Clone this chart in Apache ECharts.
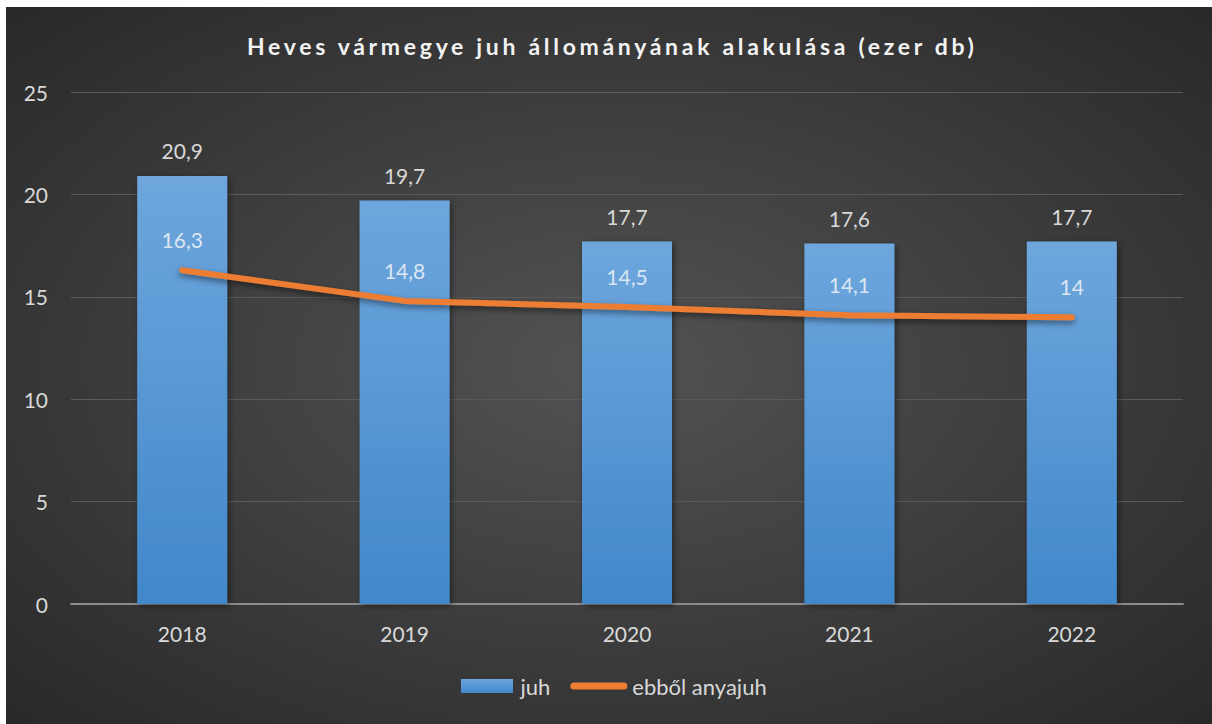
<!DOCTYPE html>
<html><head><meta charset="utf-8">
<script src="https://cdn.jsdelivr.net/npm/echarts@6/dist/echarts.min.js"></script>
<style>
html,body{margin:0;padding:0;background:#fff;width:1212px;height:724px;overflow:hidden}
#c{position:absolute;left:6px;top:7px;width:1206px;height:717px}
</style></head><body>
<div id="c"></div>
<script>
const categories = ['2018','2019','2020','2021','2022'];
const juh = [20.9, 19.7, 17.7, 17.6, 17.7];
const anyajuh = [16.3, 14.8, 14.5, 14.1, 14];
const yTicks = [0, 5, 10, 15, 20, 25];
const titleText = 'Heves vármegye juh állományának alakulása (ezer db)';
const fmt = v => String(v).replace('.', ',');
const FONT = 'Lato, "Open Sans", sans-serif';
const TITLE_FONT = 'bold 23px Lato';
const TITLE_LEFT = 236, TITLE_WIDTH = 728;
const chart = echarts.init(document.getElementById('c'), null, {renderer:'svg'});
chart.setOption({
  backgroundColor: {type:'radial', x:0.5, y:0.5, r:0.75, colorStops:[{offset:0,color:'#535353'},{offset:1,color:'#262626'}]},
  animation:false,
  title:{text:titleText, left:TITLE_LEFT, top:22,
    textStyle:{color:'#f2f2f2', fontSize:23, fontWeight:'bold', fontFamily:'Lato'}},
  grid:{left:65, right:29, top:85, bottom:120},
  legend:{bottom:22, left:450, itemGap:20, itemWidth:57, itemHeight:14,
    textStyle:{color:'#d9d9d9', fontSize:22, fontFamily:FONT},
    data:[{name:'juh', icon:'path://M0,0H52V14H0Z'},
          {name:'ebből anyajuh', icon:'path://M3.5,0 H53.5 A3.5,3.5 0 0 1 53.5,7 H3.5 A3.5,3.5 0 0 1 3.5,0 Z', itemStyle:{color:'#ed7d31'}}]},
  xAxis:{type:'category', data:categories,
    axisLine:{lineStyle:{color:'#8c8c8c', width:2}}, axisTick:{show:false},
    axisLabel:{color:'#d9d9d9', fontSize:21, fontFamily:FONT, margin:19}},
  yAxis:{type:'value', min:yTicks[0], max:yTicks[yTicks.length-1], interval:5,
    axisLine:{show:false}, axisTick:{show:false},
    splitLine:{lineStyle:{color:'#5a5a5a', width:1}},
    axisLabel:{color:'#d9d9d9', fontSize:21, fontFamily:FONT, margin:23}},
  series:[
    {name:'juh', type:'bar', data:juh, barWidth:90,
      itemStyle:{color:{type:'linear',x:0,y:0,x2:0,y2:1,colorStops:[{offset:0,color:'#6ea6dd'},{offset:1,color:'#4188ca'}]},
        shadowColor:'rgba(0,0,0,0.45)', shadowBlur:6, shadowOffsetX:2, shadowOffsetY:2},
      label:{show:true, position:'top', distance:15, color:'#d9d9d9', fontSize:21, fontFamily:FONT, formatter:p=>fmt(p.value)}},
    {name:'ebből anyajuh', type:'line', data:anyajuh, symbol:'circle', symbolSize:0.1, showSymbol:true,
      lineStyle:{color:'#ed7d31', width:6, cap:'round', shadowColor:'rgba(0,0,0,0.5)', shadowBlur:6, shadowOffsetY:3},
      itemStyle:{color:'#ed7d31'},
      label:{show:true, position:'top', distance:20, color:'#dbe6f2', fontSize:21, fontFamily:FONT, formatter:p=>fmt(p.value)}}
  ]
});
function spaceTitle(){
  const ctx = document.createElement('canvas').getContext('2d');
  ctx.font = TITLE_FONT;
  const w = ctx.measureText(titleText).width;
  const ls = (TITLE_WIDTH - w) / (titleText.length - 1);
  document.querySelectorAll('#c svg text').forEach(t => {
    if (t.textContent === titleText) t.setAttribute('letter-spacing', ls.toFixed(2));
  });
}
chart.on('finished', spaceTitle);
spaceTitle();
setTimeout(spaceTitle, 50);
</script></body></html>
